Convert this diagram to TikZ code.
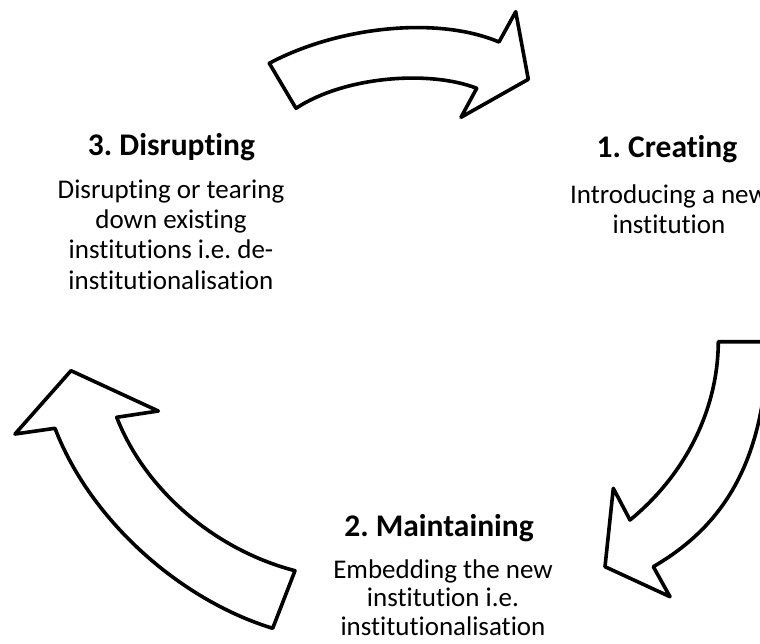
\documentclass[tikz,border=0pt]{standalone}
\usepackage{fontspec}
\setmainfont{Carlito}[Ligatures=NoCommon]
\begin{document}
\frenchspacing
\begin{tikzpicture}[x=1bp,y=-1bp,
  arrowshape/.style={draw=black, fill=white, line width=3.6bp, line join=round},
  headtxt/.style={font=\fontsize{31.5bp}{36bp}\selectfont\bfseries, inner sep=0pt, anchor=base},
  bodytxt/.style={font=\fontsize{27bp}{#1}\selectfont, align=center, inner sep=0pt, anchor=base},
  bodytxt/.default=30bp]
\useasboundingbox (0,0) rectangle (760,644);
\clip (0,0) rectangle (760,644);

% top arrow (3 -> 1)
\draw[arrowshape] (269.3,63.3) .. controls (335,28) and (435,15) .. (499,42)
  -- (515.7,11.7) -- (528.3,79.3) -- (461,117.3) -- (476.7,88.3)
  .. controls (430,70) and (345,76) .. (296,108.3) -- cycle;

% right arrow (1 -> 2)
\draw[arrowshape] (718.3,341.7) -- (768,341.7)
  .. controls (765,460) and (725,525) .. (653.3,566.7)
  -- (670,596.7) -- (605,566.7) -- (613.3,488.3) -- (630,520)
  .. controls (685,475) and (718,410) .. cycle;

% left arrow (2 -> 3)
\draw[arrowshape] (55,428.3) -- (15,434) -- (71,370.7) -- (158.3,411) -- (116.7,417.3)
  .. controls (145,490) and (215,550) .. (295,570.7)
  -- (272.7,628.3)
  .. controls (180,600) and (90,520) .. cycle;

% texts (body nodes anchored at the baseline of their last line)
\node[headtxt] (h3) at (171.5,156) {3. Disrupting};
\node[bodytxt=30.3bp] (b3) at (171,289) {Disrupting or tearing\\down existing\\institutions i.e. de-\\institutionalisation};
\node[headtxt] (h1) at (667,158) {1. Creating};
\node[bodytxt=30bp] (b1) at (669,233.5) {Introducing a new\\institution};
\node[headtxt] (h2) at (439,536.5) {2. Maintaining};
\node[bodytxt=28.5bp] (b2) at (443,635) {Embedding the new\\institution i.e.\\institutionalisation};
\end{tikzpicture}
\end{document}
